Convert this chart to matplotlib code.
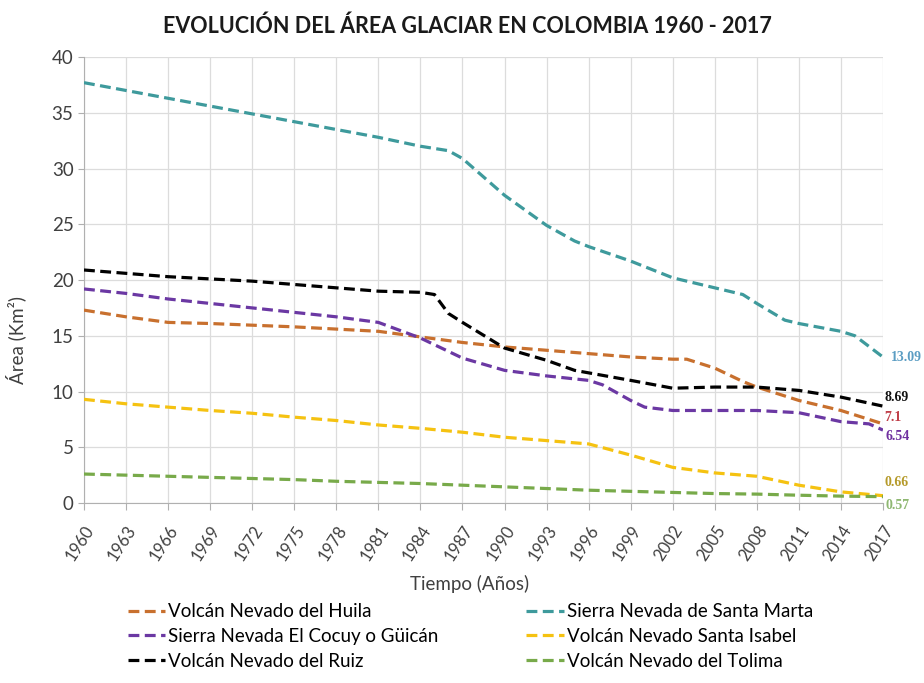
import matplotlib
matplotlib.use("Agg")
import matplotlib.pyplot as plt

plt.rcParams['font.family'] = ['Lato', 'DejaVu Sans']

# Year ticks (every three years)
tick_years = list(range(1960, 2018, 3))

# Glacier area (km²) per glacier, by year
huila_years = [1960, 1963, 1966, 1969, 1972, 1975, 1978, 1981, 1984, 1987, 1990, 1993, 1996, 1999, 2002, 2003, 2005, 2007, 2008, 2011, 2014, 2017]
huila_area = [17.3, 16.7, 16.2, 16.1, 15.95, 15.8, 15.6, 15.4, 14.9, 14.4, 14.0, 13.7, 13.4, 13.1, 12.9, 12.9, 12.1, 10.9, 10.4, 9.2, 8.3, 7.1]

marta_years = [1960, 1963, 1966, 1969, 1972, 1975, 1978, 1981, 1984, 1986, 1987, 1990, 1993, 1995, 1996, 1999, 2002, 2005, 2007, 2008, 2010, 2011, 2014, 2015, 2017]
marta_area = [37.7, 37.0, 36.3, 35.6, 34.9, 34.2, 33.5, 32.8, 32.0, 31.6, 30.9, 27.6, 24.9, 23.5, 23.0, 21.7, 20.2, 19.3, 18.7, 17.9, 16.4, 16.1, 15.4, 15.0, 13.09]

cocuy_years = [1960, 1963, 1966, 1969, 1972, 1975, 1978, 1981, 1984, 1987, 1990, 1993, 1996, 1997, 1999, 2000, 2002, 2005, 2008, 2011, 2014, 2016, 2017]
cocuy_area = [19.2, 18.8, 18.3, 17.9, 17.5, 17.1, 16.7, 16.2, 14.8, 13.0, 11.9, 11.4, 11.0, 10.6, 9.2, 8.6, 8.3, 8.3, 8.3, 8.1, 7.3, 7.1, 6.54]

isabel_years = [1960, 1963, 1966, 1969, 1972, 1975, 1978, 1981, 1984, 1987, 1990, 1993, 1996, 1999, 2002, 2005, 2008, 2011, 2014, 2017]
isabel_area = [9.3, 8.9, 8.6, 8.3, 8.05, 7.7, 7.4, 7.0, 6.7, 6.35, 5.9, 5.6, 5.3, 4.3, 3.2, 2.7, 2.4, 1.6, 1.0, 0.66]

ruiz_years = [1960, 1963, 1966, 1969, 1972, 1975, 1978, 1981, 1984, 1985, 1986, 1987, 1990, 1993, 1995, 1999, 2002, 2005, 2008, 2011, 2014, 2017]
ruiz_area = [20.9, 20.6, 20.3, 20.1, 19.9, 19.6, 19.3, 19.0, 18.9, 18.7, 17.0, 16.2, 13.9, 12.8, 11.9, 11.0, 10.3, 10.4, 10.4, 10.1, 9.5, 8.69]

tolima_years = tick_years
tolima_area = [2.6, 2.5, 2.4, 2.3, 2.2, 2.1, 1.95, 1.85, 1.75, 1.6, 1.45, 1.3, 1.15, 1.05, 0.95, 0.85, 0.8, 0.7, 0.62, 0.57]

series = [
    ("Volcán Nevado del Huila", huila_years, huila_area, "#c8702e"),
    ("Sierra Nevada El Cocuy o Güicán", cocuy_years, cocuy_area, "#6b38a3"),
    ("Volcán Nevado del Ruiz", ruiz_years, ruiz_area, "#000000"),
    ("Sierra Nevada de Santa Marta", marta_years, marta_area, "#3e9a9c"),
    ("Volcán Nevado Santa Isabel", isabel_years, isabel_area, "#f5c211"),
    ("Volcán Nevado del Tolima", tolima_years, tolima_area, "#78aa4a"),
]

# End-value labels: (value, colour, horizontal / vertical offset in points)
end_labels = [
    (marta_area[-1], "#5b9dc3", 6, 0),
    (ruiz_area[-1], "#111111", 1, 6),
    (huila_area[-1], "#c0404a", 1, 4.5),
    (cocuy_area[-1], "#7030a0", 1.5, -4.5),
    (isabel_area[-1], "#b59a2a", 1, 9.5),
    (tolima_area[-1], "#8fb872", 1.5, -6.5),
]

fig = plt.figure(figsize=(9.24, 6.83), dpi=100)
ax = fig.add_axes([0.0909, 0.2635, 0.8647, 0.653])

for name, yrs, vals, col in series:
    ax.plot(yrs, vals, color=col, lw=2.3, dashes=(3.4, 1.7),
            dash_capstyle='butt', label=name, zorder=3)

for val, col, dx, dy in end_labels:
    ax.annotate(f"{val:g}", xy=(2017, val), xytext=(dx, dy),
                textcoords='offset points', color=col, fontsize=10,
                family=['Liberation Serif', 'DejaVu Serif'],
                ha='left', va='center', fontweight='bold')

ax.set_xlim(1960, 2017)
ax.set_ylim(0, 40)
ax.set_xticks(tick_years)
ax.set_xticklabels([str(y) for y in tick_years], rotation=57, ha='right',
                   rotation_mode='anchor', fontsize=12, color='#404040')
ax.set_yticks(range(0, 41, 5))
ax.tick_params(axis='y', labelsize=13.5, colors='#404040', length=4, color='#b0b0b0')
ax.tick_params(axis='x', length=5, color='#b0b0b0', pad=9)
ax.grid(True, color='#dcdcdc', lw=0.9)
ax.set_axisbelow(True)
for s in ['top', 'right']:
    ax.spines[s].set_visible(False)
for s in ['left', 'bottom']:
    ax.spines[s].set_color('#b0b0b0')

ax.set_xlabel("Tiempo (Años)", fontsize=13.5, color='#404040')
ax.xaxis.set_label_coords(0.483, -0.161)
ax.set_ylabel("Área (Km²)", fontsize=13.5, color='#404040')
ax.yaxis.set_label_coords(-0.072, 0.365)

fig.text(0.506, 0.962, "EVOLUCIÓN DEL ÁREA GLACIAR EN COLOMBIA 1960 - 2017",
         ha='center', va='center', fontsize=15.5, fontweight='bold', color='#1a1a1a')

fig.legend(loc='upper left', bbox_to_anchor=(0.130, 0.128), ncol=2,
           frameon=False, fontsize=13.5, handlelength=2.0, handletextpad=0.15,
           columnspacing=4.7, labelspacing=0.42, borderaxespad=0)

fig.savefig("out.png", dpi=100)
